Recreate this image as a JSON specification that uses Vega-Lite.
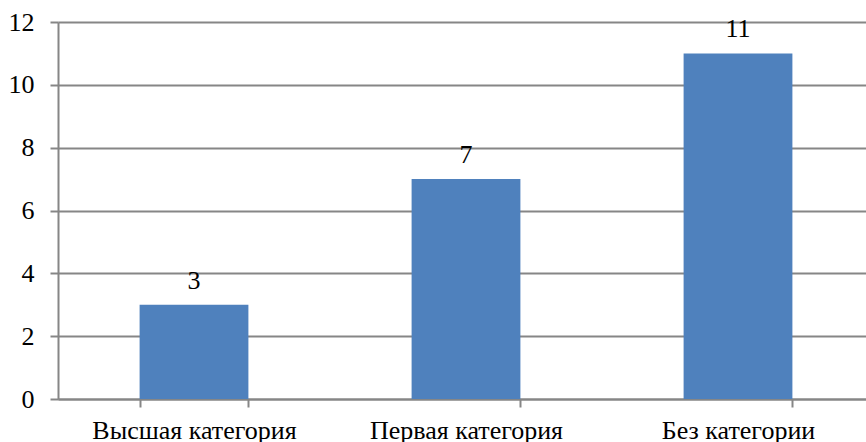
{
  "$schema": "https://vega.github.io/schema/vega-lite/v6.json",
  "width": 816,
  "height": 377,
  "autosize": {"type": "none"},
  "padding": {"left": 58, "top": 22, "right": 0, "bottom": 43},
  "background": "white",
  "config": {
    "view": {"stroke": null},
    "font": "Liberation Serif"
  },
  "data": {
    "values": [
      {"category": "Высшая категория", "value": 3},
      {"category": "Первая категория", "value": 7},
      {"category": "Без категории", "value": 11}
    ]
  },
  "encoding": {
    "x": {
      "field": "category",
      "type": "nominal",
      "sort": null,
      "scale": {"paddingInner": 0.6, "paddingOuter": 0.3},
      "axis": {
        "title": null,
        "labelAngle": 0,
        "labelFont": "Liberation Serif",
        "labelFontSize": 26,
        "labelLimit": 0,
        "labelColor": "black",
        "labelPadding": 10,
        "tickBand": "extent",
        "tickColor": "#868686",
        "tickSize": 8,
        "tickWidth": 2,
        "domainColor": "#868686",
        "domainWidth": 2,
        "grid": false
      }
    },
    "y": {
      "field": "value",
      "type": "quantitative",
      "scale": {"domain": [0, 12]},
      "axis": {
        "title": null,
        "values": [0, 2, 4, 6, 8, 10, 12],
        "labelFont": "Liberation Serif",
        "labelFontSize": 26,
        "labelColor": "black",
        "labelPadding": 16,
        "tickColor": "#868686",
        "tickSize": 8,
        "tickWidth": 2,
        "domainColor": "#868686",
        "domainWidth": 2,
        "gridColor": "#868686",
        "gridWidth": 2
      }
    }
  },
  "layer": [
    {"mark": {"type": "bar", "color": "#4F81BD"}},
    {
      "mark": {"type": "text", "dy": -24, "fontSize": 26, "font": "Liberation Serif", "color": "black"},
      "encoding": {"text": {"field": "value", "type": "quantitative"}}
    }
  ]
}
